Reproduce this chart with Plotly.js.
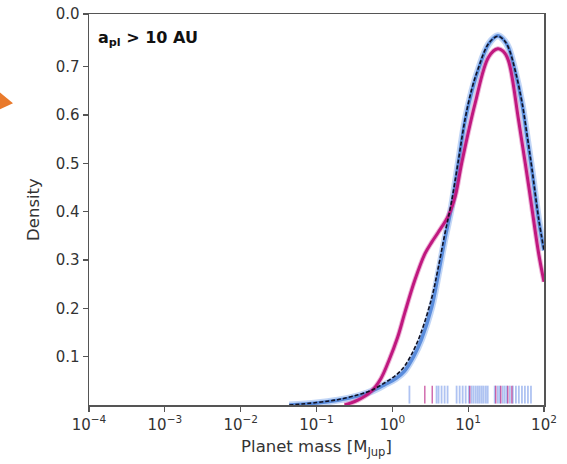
<!DOCTYPE html>
<html>
<head>
<meta charset="utf-8">
<script src="https://cdn.plot.ly/plotly-3.0.1.min.js"></script>
<style>html,body{margin:0;padding:0;background:#fff;}#chart{width:567px;height:464px;}</style>
</head>
<body>
<div id="chart"></div>
<script>
// Planet mass grid (M_Jup) for the all-sample KDE curves
var massGrid = [0.0437, 0.1, 0.1905, 0.3548, 0.5248, 0.7943, 1.122, 1.445, 1.905, 2.399, 3.311, 3.981, 4.898, 6.026, 7.413, 9.120, 11.22, 13.49, 18.62, 24.55, 28.84, 33.88, 41.69, 51.29, 60.26, 69.18, 85.11, 100];
var blueDensity = [0.0, 0.004, 0.010, 0.019, 0.028, 0.042, 0.055, 0.070, 0.100, 0.134, 0.203, 0.265, 0.341, 0.410, 0.500, 0.589, 0.650, 0.692, 0.747, 0.764, 0.757, 0.740, 0.690, 0.623, 0.550, 0.486, 0.382, 0.320];
var dashedDensity = [0.0, 0.005, 0.011, 0.021, 0.030, 0.046, 0.062, 0.080, 0.113, 0.150, 0.222, 0.280, 0.352, 0.420, 0.505, 0.592, 0.655, 0.695, 0.748, 0.763, 0.757, 0.740, 0.692, 0.626, 0.555, 0.490, 0.385, 0.320];

// Magenta KDE curve
var magentaMass = [0.2344, 0.3508, 0.5248, 0.7079, 0.8913, 1.175, 1.455, 1.977, 2.692, 3.311, 4.018, 5.495, 6.761, 8.204, 12.30, 18.62, 24.55, 28.84, 33.88, 46.24, 63.10, 85.11, 100];
var magentaDensity = [0.0, 0.010, 0.028, 0.055, 0.090, 0.140, 0.190, 0.258, 0.313, 0.337, 0.357, 0.392, 0.432, 0.500, 0.623, 0.720, 0.737, 0.732, 0.713, 0.589, 0.451, 0.313, 0.255];

// Rug positions (M_Jup)
var rugBlue = [1.68, 3.83, 4.07, 4.46, 4.89, 5.35, 7.04, 7.72, 8.46, 9.27, 10.2, 11.1, 11.8, 12.6, 13.4, 14.2, 15.1, 16.0, 17.1, 18.1, 22.4, 24.6, 26.1, 28.6, 30.4, 32.4, 35.5, 38.8, 42.6, 46.6, 51.2, 56.0, 61.4, 67.3];
var rugMagenta = [2.68, 3.36, 10.5, 23.1, 26.9, 33.3, 37.7];
var rugLow = 0.003, rugHigh = 0.04;

// Tick labels
var xTickVals = [1e-4, 1e-3, 1e-2, 1e-1, 1, 10, 100];
var xTickText = ['10<sup>−4</sup>', '10<sup>−3</sup>', '10<sup>−2</sup>', '10<sup>−1</sup>', '10<sup>0</sup>', '10<sup>1</sup>', '10<sup>2</sup>'];
var yTickVals = [0.1, 0.2, 0.3, 0.4, 0.5, 0.6, 0.7, 0.809];
var yTickText = ['0.1', '0.2', '0.3', '0.4', '0.5', '0.6', '0.7', '0.0'];

function rugTrace(vals, color, w) {
  var xs = [], ys = [];
  vals.forEach(function (v) { xs.push(v, v, null); ys.push(rugLow, rugHigh, null); });
  return {x: xs, y: ys, mode: 'lines', type: 'scatter', hoverinfo: 'skip', showlegend: false,
          line: {color: color, width: w}};
}

var traces = [
  rugTrace(rugBlue, 'rgba(95,135,230,0.5)', 1.8),
  rugTrace(rugMagenta, 'rgba(185,30,130,0.65)', 1.5),
  {x: massGrid, y: blueDensity, mode: 'lines', type: 'scatter', showlegend: false,
   line: {color: 'rgba(120,165,235,0.45)', width: 7, shape: 'spline'}},
  {x: massGrid, y: blueDensity, mode: 'lines', type: 'scatter', showlegend: false,
   line: {color: '#5b8ddc', width: 3.5, shape: 'spline'}},
  {x: magentaMass, y: magentaDensity, mode: 'lines', type: 'scatter', showlegend: false,
   line: {color: 'rgba(200,40,140,0.35)', width: 5, shape: 'spline'}},
  {x: magentaMass, y: magentaDensity, mode: 'lines', type: 'scatter', showlegend: false,
   line: {color: '#c0187f', width: 3, shape: 'spline'}},
  {x: massGrid, y: dashedDensity, mode: 'lines', type: 'scatter', showlegend: false,
   line: {color: '#111122', width: 1.6, dash: '4px,2px', shape: 'spline'}}
];

var axisFont = {family: 'DejaVu Sans, sans-serif', size: 15, color: '#333'};
var layout = {
  width: 567, height: 464,
  margin: {l: 89, r: 23, t: 14, b: 59},
  paper_bgcolor: '#fff', plot_bgcolor: '#fff',
  showlegend: false,
  xaxis: {
    type: 'log', range: [-4, 2],
    tickmode: 'array', tickvals: xTickVals, ticktext: xTickText,
    ticks: 'outside', ticklen: 5, tickwidth: 1.2, tickcolor: '#555',
    showline: true, linecolor: '#555', linewidth: 1.5, mirror: true,
    showgrid: false, zeroline: false,
    tickfont: axisFont,
    title: {text: 'Planet mass [M<sub>Jup</sub>]', font: {family: 'DejaVu Sans, sans-serif', size: 16.5, color: '#333'}, standoff: 8}
  },
  yaxis: {
    range: [0, 0.809],
    tickmode: 'array', tickvals: yTickVals, ticktext: yTickText,
    ticks: 'outside', ticklen: 5, tickwidth: 1.2, tickcolor: '#555',
    showline: true, linecolor: '#555', linewidth: 1.5, mirror: true,
    showgrid: false, zeroline: false,
    tickfont: axisFont,
    title: {text: 'Density', font: {family: 'DejaVu Sans, sans-serif', size: 16.5, color: '#333'}, standoff: 12}
  },
  annotations: [{
    xref: 'paper', yref: 'paper', x: 0.015, y: 0.97, xanchor: 'left', yanchor: 'top',
    text: '<b>a<sub>pl</sub> &gt; 10 AU</b>', showarrow: false,
    font: {family: 'DejaVu Sans, sans-serif', size: 16, color: '#111'}
  }],
  shapes: [{
    type: 'path', xref: 'paper', yref: 'paper',
    path: 'M -0.21,0.813 L -0.167,0.772 L -0.21,0.749 Z',
    fillcolor: '#e97a2c', line: {width: 0}
  }]
};

Plotly.newPlot('chart', traces, layout, {displayModeBar: false, staticPlot: true});
</script>
</body>
</html>
